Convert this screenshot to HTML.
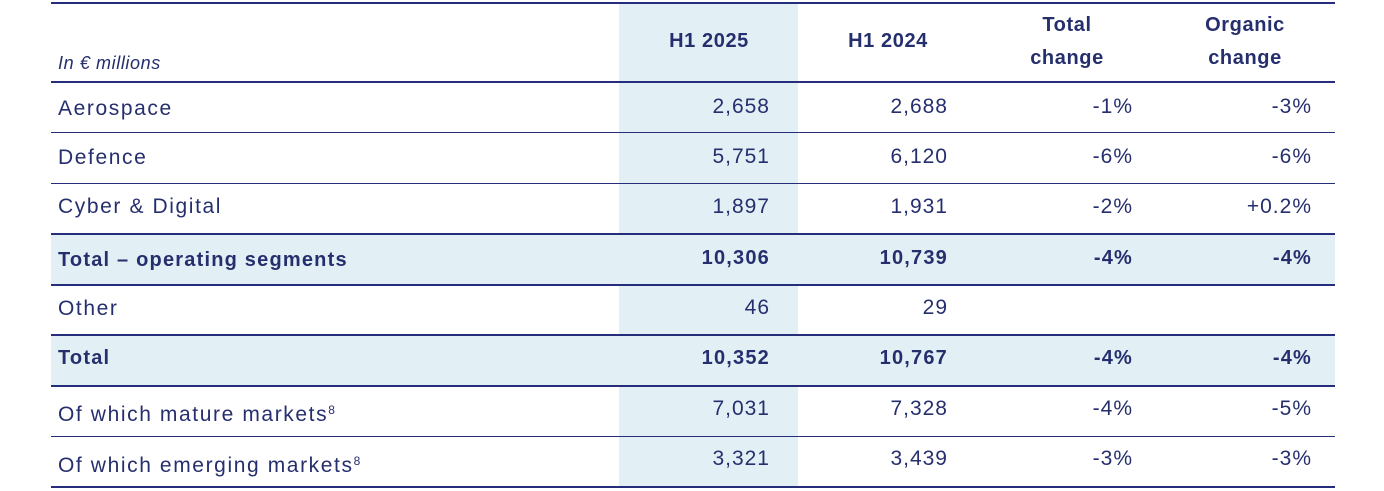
<!DOCTYPE html>
<html><head><style>
body{margin:0;width:1384px;height:491px;background:#fff;position:relative;overflow:hidden;font-family:"Liberation Sans",sans-serif;color:#262f6e}
.l{position:absolute;left:51px;width:1284px;background:#262d7a}
.t{position:absolute;white-space:nowrap;font-size:21px;line-height:24px}
.lab{letter-spacing:1.6px}
.r{text-align:right;width:200px;letter-spacing:1px}
.c{text-align:center;width:200px;font-weight:bold;font-size:20px;letter-spacing:0.6px}
.b{font-weight:bold;font-size:20px;letter-spacing:1.2px}
.hl{position:absolute;background:#e2f0f5}
sup{font-size:12px;vertical-align:7px;letter-spacing:0}
</style></head><body>
<div class="hl" style="left:619px;top:3px;width:179px;height:484px"></div>
<div class="hl" style="left:51px;top:234px;width:1284px;height:51px"></div>
<div class="hl" style="left:51px;top:335px;width:1284px;height:51px"></div>
<div class="l" style="top:2px;height:2px"></div>
<div class="l" style="top:81px;height:2px"></div>
<div class="l" style="top:132px;height:1px"></div>
<div class="l" style="top:183px;height:1px"></div>
<div class="l" style="top:233px;height:2px"></div>
<div class="l" style="top:284px;height:2px"></div>
<div class="l" style="top:334px;height:2px"></div>
<div class="l" style="top:385px;height:2px"></div>
<div class="l" style="top:436px;height:1px"></div>
<div class="l" style="top:486px;height:2px"></div>

<div class="t" style="left:58px;top:51px;font-style:italic;font-size:18px;letter-spacing:0.6px">In € millions</div>
<div class="t c" style="left:609px;top:29px">H1 2025</div>
<div class="t c" style="left:788px;top:29px">H1 2024</div>
<div class="t c" style="left:967px;top:9px;line-height:33px">Total<br>change</div>
<div class="t c" style="left:1145px;top:9px;line-height:33px">Organic<br>change</div>

<div class="t lab" style="left:58px;top:97px">Aerospace</div>
<div class="t lab" style="left:58px;top:146px">Defence</div>
<div class="t lab" style="left:58px;top:195px">Cyber &amp; Digital</div>
<div class="t b" style="left:58px;top:248px">Total – operating segments</div>
<div class="t lab" style="left:58px;top:297px">Other</div>
<div class="t b" style="left:58px;top:346px">Total</div>
<div class="t lab" style="left:58px;top:398px">Of which mature markets<sup>8</sup></div>
<div class="t lab" style="left:58px;top:449px">Of which emerging markets<sup>8</sup></div>

<div class="t r" style="left:570px;top:95px">2,658</div><div class="t r" style="left:748px;top:95px">2,688</div><div class="t r" style="left:933px;top:95px">-1%</div><div class="t r" style="left:1112px;top:95px">-3%</div>
<div class="t r" style="left:570px;top:145px">5,751</div><div class="t r" style="left:748px;top:145px">6,120</div><div class="t r" style="left:933px;top:145px">-6%</div><div class="t r" style="left:1112px;top:145px">-6%</div>
<div class="t r" style="left:570px;top:195px">1,897</div><div class="t r" style="left:748px;top:195px">1,931</div><div class="t r" style="left:933px;top:195px">-2%</div><div class="t r" style="left:1112px;top:195px">+0.2%</div>
<div class="t r b" style="left:570px;top:246px">10,306</div><div class="t r b" style="left:748px;top:246px">10,739</div><div class="t r b" style="left:933px;top:246px">-4%</div><div class="t r b" style="left:1112px;top:246px">-4%</div>
<div class="t r" style="left:570px;top:296px">46</div><div class="t r" style="left:748px;top:296px">29</div>
<div class="t r b" style="left:570px;top:346px">10,352</div><div class="t r b" style="left:748px;top:346px">10,767</div><div class="t r b" style="left:933px;top:346px">-4%</div><div class="t r b" style="left:1112px;top:346px">-4%</div>
<div class="t r" style="left:570px;top:397px">7,031</div><div class="t r" style="left:748px;top:397px">7,328</div><div class="t r" style="left:933px;top:397px">-4%</div><div class="t r" style="left:1112px;top:397px">-5%</div>
<div class="t r" style="left:570px;top:447px">3,321</div><div class="t r" style="left:748px;top:447px">3,439</div><div class="t r" style="left:933px;top:447px">-3%</div><div class="t r" style="left:1112px;top:447px">-3%</div>
</body></html>
